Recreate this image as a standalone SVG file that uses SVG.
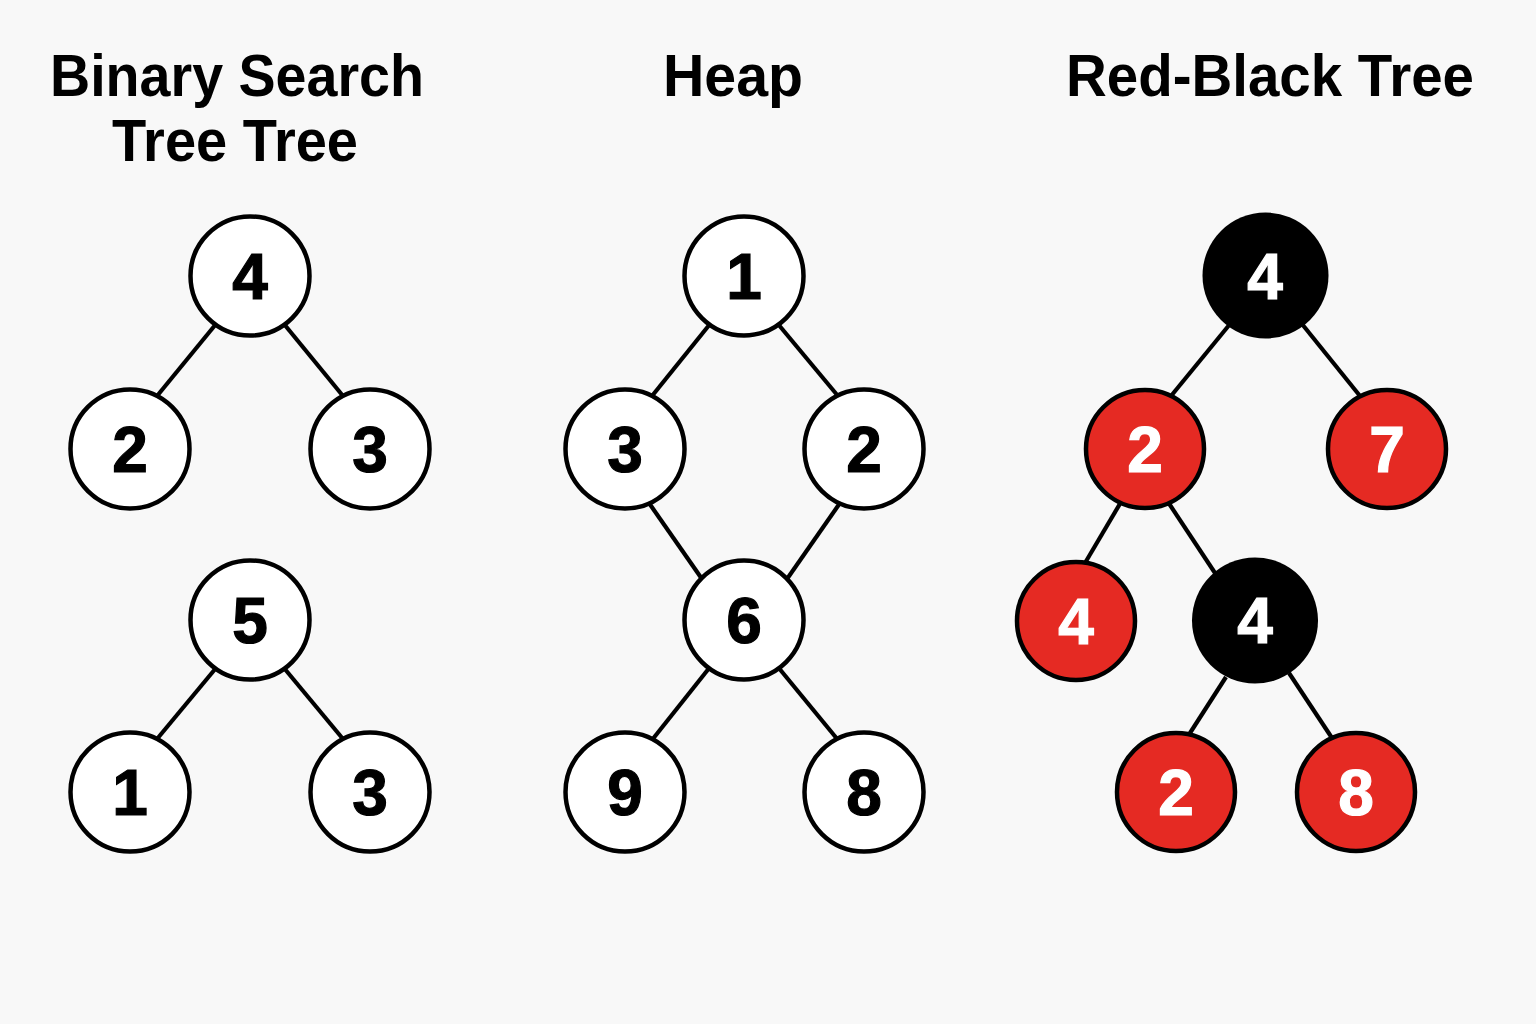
<svg xmlns="http://www.w3.org/2000/svg" width="1536" height="1024" viewBox="0 0 1536 1024">
<style>
.title{font-family:"Liberation Sans",Arial,sans-serif;font-weight:700;font-size:60px;fill:#000;text-anchor:middle}
.n circle{stroke:#000;stroke-width:4.5}
.w circle{fill:#fff}
.r circle{fill:#e52a23}
.b circle{fill:#000;stroke:none}
.n text{font-family:"Liberation Sans",Arial,sans-serif;font-weight:700;font-size:64px;text-anchor:middle;stroke-width:1.2}
.w text{fill:#000;stroke:#000}
.r text,.b text{fill:#fff;stroke:#fff}
#edges line{stroke:#000;stroke-width:4.2;stroke-linecap:butt}
</style>
<rect width="1536" height="1024" fill="#f8f8f8"/>
<text class="title" x="237" y="96" textLength="374" lengthAdjust="spacingAndGlyphs">Binary Search</text>
<text class="title" x="235" y="161" textLength="246" lengthAdjust="spacingAndGlyphs">Tree Tree</text>
<text class="title" x="733" y="96" textLength="140" lengthAdjust="spacingAndGlyphs">Heap</text>
<text class="title" x="1270" y="96" textLength="408" lengthAdjust="spacingAndGlyphs">Red-Black Tree</text>
<g id="edges">
<line x1="216" y1="324" x2="157" y2="396"/>
<line x1="284" y1="324" x2="343" y2="396"/>
<line x1="216" y1="668" x2="157" y2="739"/>
<line x1="284" y1="668" x2="343" y2="739"/>
<line x1="710" y1="324" x2="652" y2="396"/>
<line x1="778" y1="324" x2="838" y2="396"/>
<line x1="649" y1="503" x2="702" y2="579"/>
<line x1="840" y1="503" x2="787" y2="579"/>
<line x1="710" y1="667" x2="652" y2="740"/>
<line x1="778" y1="667" x2="838" y2="740"/>
<line x1="1230" y1="324" x2="1171" y2="396"/>
<line x1="1302" y1="324" x2="1360" y2="396"/>
<line x1="1121" y1="502" x2="1085" y2="563"/>
<line x1="1168" y1="502" x2="1215" y2="573"/>
<line x1="1226" y1="677" x2="1190" y2="733"/>
<line x1="1289" y1="673" x2="1332" y2="738"/>
</g>
<g id="bst-4" class="n w"><circle cx="250" cy="276" r="59.5"/><text x="250" y="299">4</text></g>
<g id="bst-2" class="n w"><circle cx="130" cy="449" r="59.5"/><text x="130" y="472">2</text></g>
<g id="bst-3a" class="n w"><circle cx="370" cy="449" r="59.5"/><text x="370" y="472">3</text></g>
<g id="bst-5" class="n w"><circle cx="250" cy="620" r="59.5"/><text x="250" y="643">5</text></g>
<g id="bst-1" class="n w"><circle cx="130" cy="792" r="59.5"/><text x="130" y="815">1</text></g>
<g id="bst-3b" class="n w"><circle cx="370" cy="792" r="59.5"/><text x="370" y="815">3</text></g>
<g id="heap-1" class="n w"><circle cx="744" cy="276" r="59.5"/><text x="744" y="299">1</text></g>
<g id="heap-3" class="n w"><circle cx="625" cy="449" r="59.5"/><text x="625" y="472">3</text></g>
<g id="heap-2" class="n w"><circle cx="864" cy="449" r="59.5"/><text x="864" y="472">2</text></g>
<g id="heap-6" class="n w"><circle cx="744" cy="620" r="59.5"/><text x="744" y="643">6</text></g>
<g id="heap-9" class="n w"><circle cx="625" cy="792" r="59.5"/><text x="625" y="815">9</text></g>
<g id="heap-8" class="n w"><circle cx="864" cy="792" r="59.5"/><text x="864" y="815">8</text></g>
<g id="rb-4root" class="n b"><circle cx="1265.5" cy="275.5" r="63"/><text x="1265" y="299">4</text></g>
<g id="rb-2" class="n r"><circle cx="1145" cy="449" r="59"/><text x="1145" y="472">2</text></g>
<g id="rb-7" class="n r"><circle cx="1387" cy="449" r="59"/><text x="1387" y="472">7</text></g>
<g id="rb-4red" class="n r"><circle cx="1076" cy="621" r="59"/><text x="1076" y="644">4</text></g>
<g id="rb-4black" class="n b"><circle cx="1255" cy="620.5" r="63"/><text x="1255" y="643">4</text></g>
<g id="rb-2b" class="n r"><circle cx="1176" cy="792" r="59"/><text x="1176" y="815">2</text></g>
<g id="rb-8" class="n r"><circle cx="1356" cy="792" r="59"/><text x="1356" y="815">8</text></g>
</svg>
